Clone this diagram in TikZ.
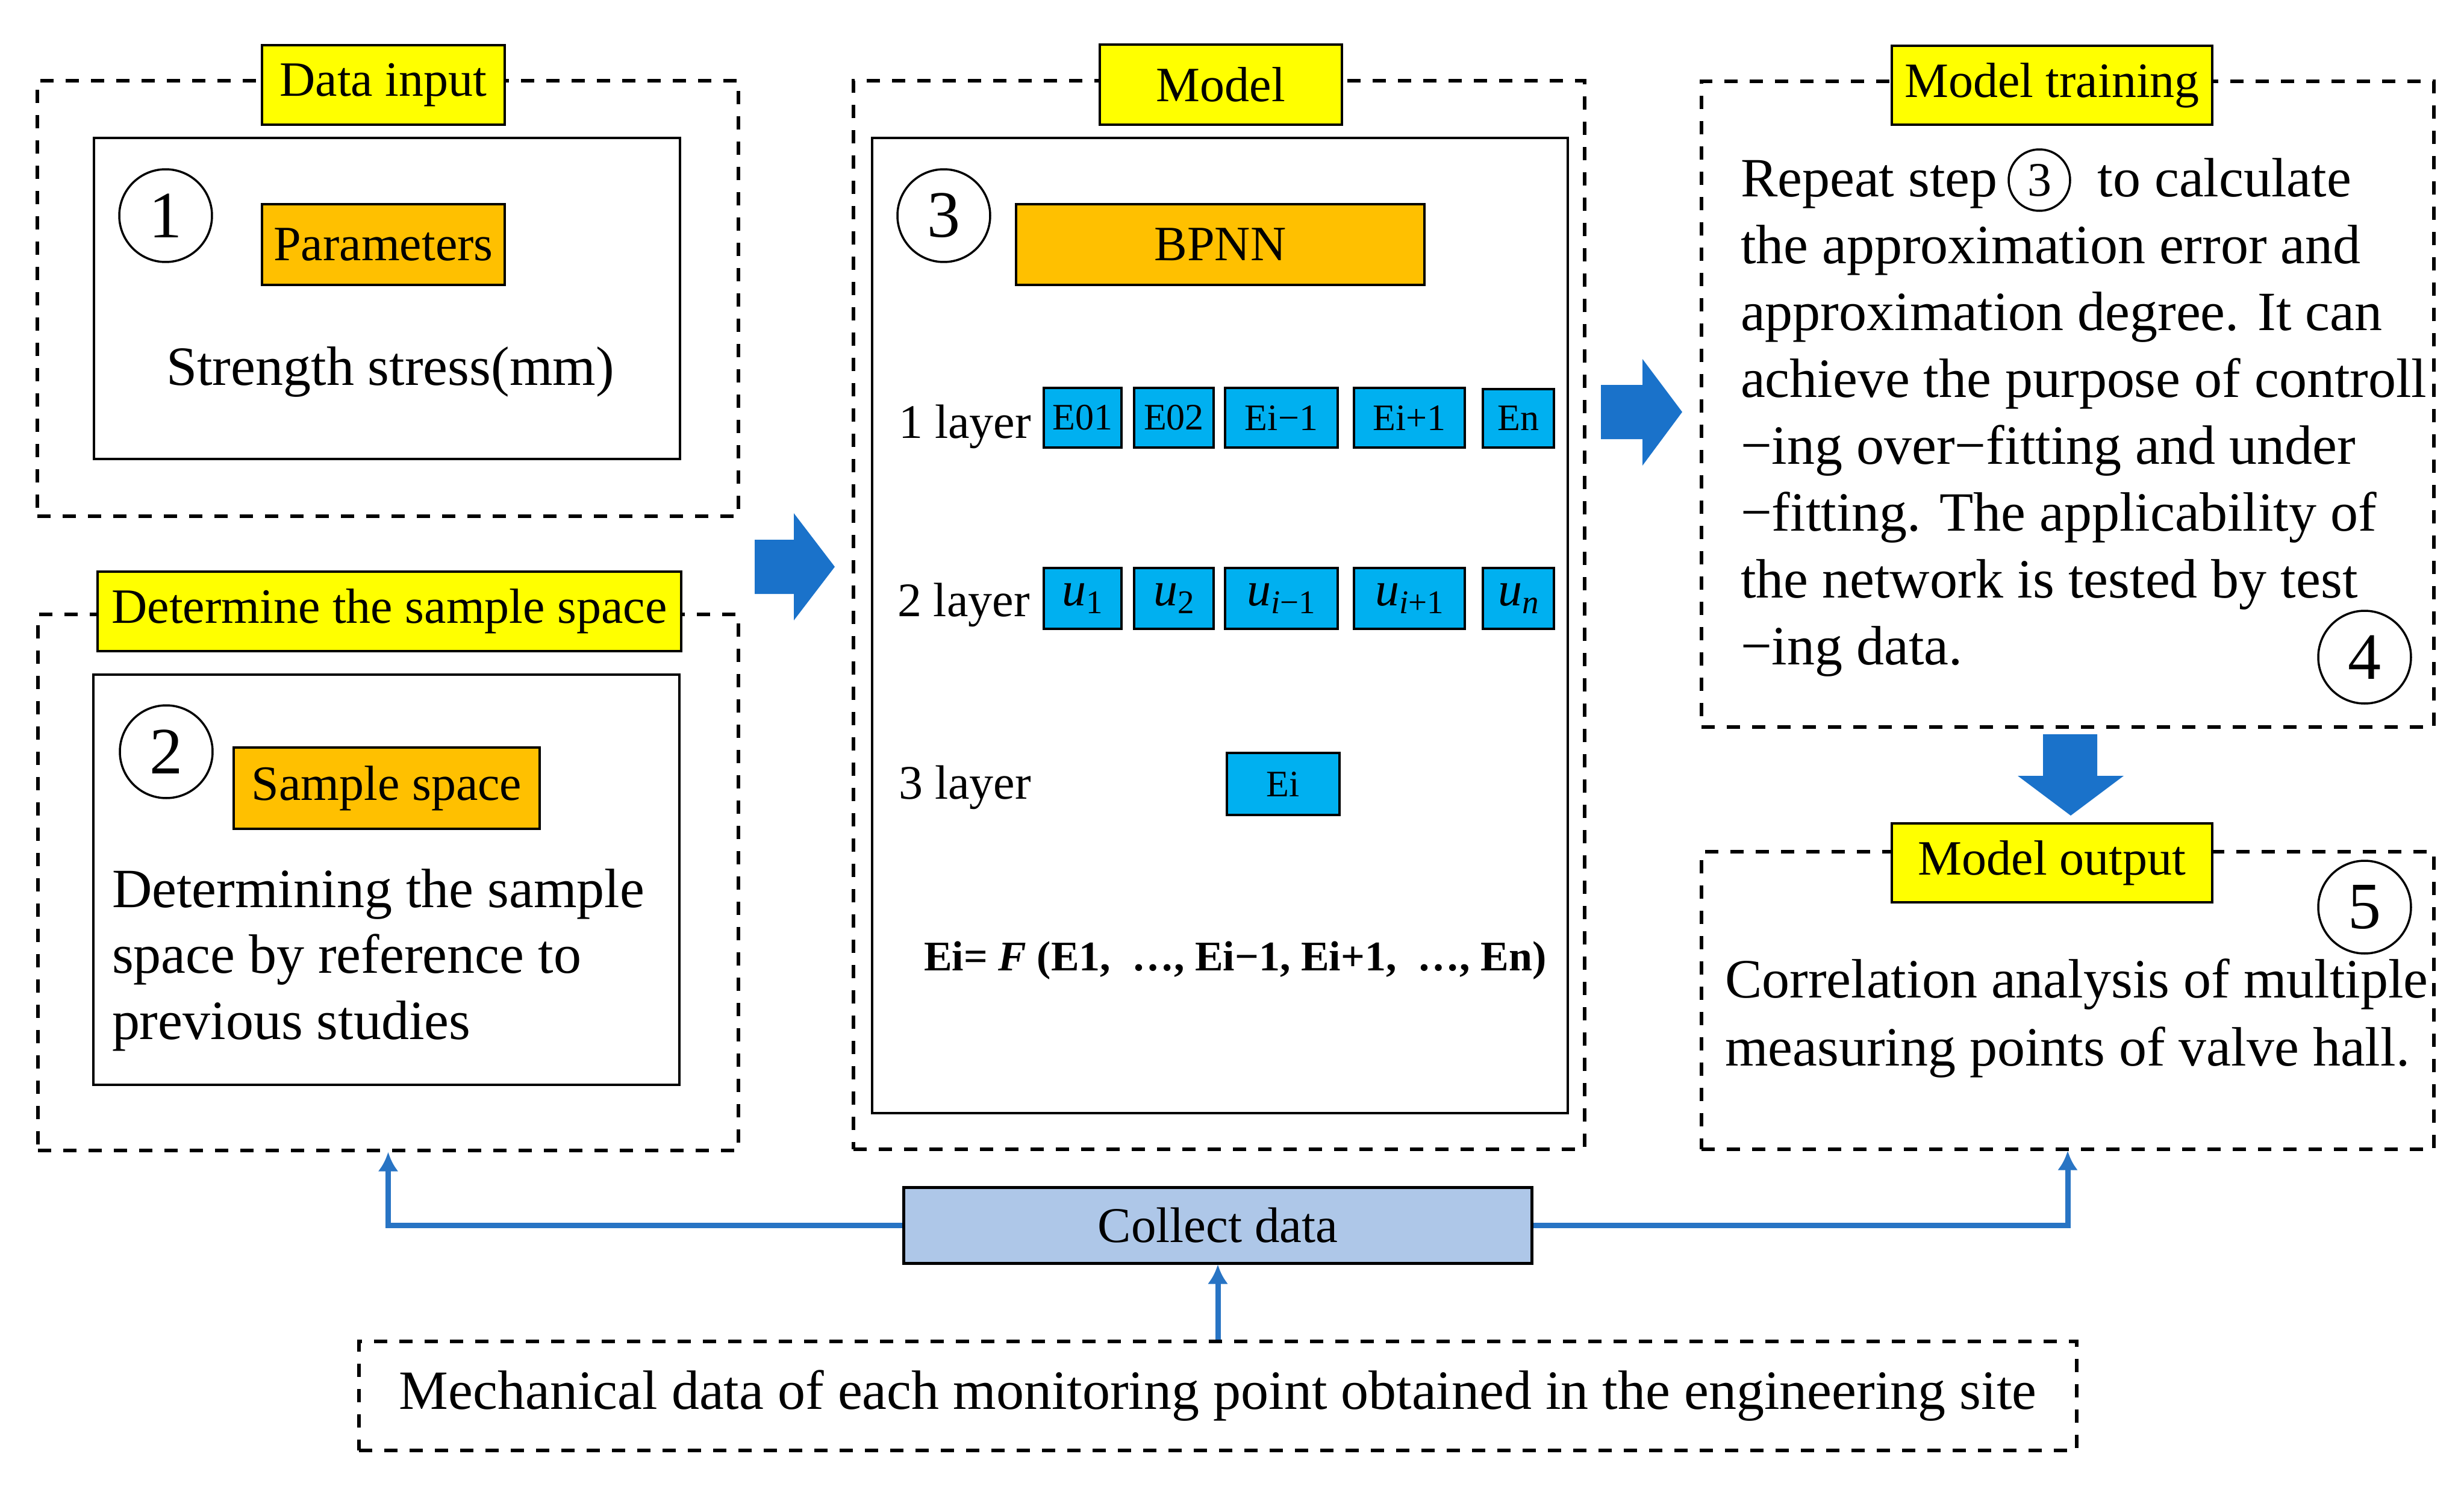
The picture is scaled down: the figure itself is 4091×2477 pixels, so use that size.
\documentclass[tikz,border=0pt]{standalone}
\usepackage{fontspec}
\setmainfont{Liberation Serif}
\usetikzlibrary{arrows.meta}
\definecolor{tagyellow}{RGB}{255,255,0}
\definecolor{taborange}{RGB}{255,192,0}
\definecolor{cellcyan}{RGB}{0,176,240}
\definecolor{bigblue}{RGB}{26,114,202}
\definecolor{linkblue}{RGB}{40,116,196}
\definecolor{collfill}{RGB}{174,199,232}
\newcommand{\uu}[1]{{\itshape u}\raisebox{-1.3pt}{\fontsize{5.5}{5.5}\selectfont #1}}

\begin{document}
\begin{tikzpicture}[x=0.1pt,y=-0.1pt]
                % define styles
\tikzset{frame/.style={draw=black,
                       line width=0.55pt,
                       dash pattern=on 2.2pt off 2pt,
                       inner sep=0,
                       },
         inner/.style={draw=black,
                       line width=0.4pt,
                       inner sep=0,
                       },
         tag/.style={draw=black,
                     fill=tagyellow,
                     line width=0.45pt,
                     inner sep=0,
                     font=\fontsize{8.2}{9}\selectfont,
                     },
         tab/.style={tag,
                     fill=taborange,
                     },
         cell/.style={draw=black,
                      fill=cellcyan,
                      line width=0.45pt,
                      inner sep=0,
                      font=\fontsize{6.2}{7}\selectfont,
                      },
         numc/.style={circle,
                      draw=black,
                      line width=0.35pt,
                      inner sep=0,
                      minimum size=15.4pt,
                      font=\fontsize{11}{11}\selectfont,
                      },
         txt/.style={inner sep=0,
                     font=\fontsize{9.2}{11}\selectfont,
                     },
         layer/.style={inner sep=0,
                       anchor=base west,
                       font=\fontsize{8}{9}\selectfont,
                       },
         link/.style={draw=linkblue,
                      line width=0.9pt,
                      -{Latex[length=3.2pt,width=3.4pt]},
                      },
}

\useasboundingbox (0,0) rectangle (4091,2477);

% dashed frames
\node[frame, minimum width=116.4pt, minimum height=72.3pt]  (data)   at (644,495.5)   {};
\node[frame, minimum width=116.3pt, minimum height=89pt]    (sample) at (644.5,1465)  {};
\node[frame, minimum width=121.4pt, minimum height=177.4pt] (model)  at (2024,1021)   {};
\node[frame, minimum width=121.6pt, minimum height=107.2pt] (train)  at (3433,671)    {};
\node[frame, minimum width=121.6pt, minimum height=49.4pt]  (output) at (3433,1661)   {};
\node[frame, minimum width=285.2pt, minimum height=18.1pt,
      font=\fontsize{9.2}{11}\selectfont] (mech) at (2022,2317.5)
      {Mechanical data of each monitoring point obtained in the engineering site};

% inner boxes
\node[inner, minimum width=97.3pt,  minimum height=53.3pt]  (datain)   at (642.5,495.5)  {};
\node[inner, minimum width=97.3pt,  minimum height=68.1pt]  (samplein) at (641.5,1460.5) {};
\node[inner, minimum width=115.5pt, minimum height=161.9pt] (modelin)  at (2025.5,1038.5) {};

% frame labels
\node[tag, minimum width=40.3pt, minimum height=13.2pt] (tdata)   at (636.5,141)   {Data input};
\node[tag, minimum width=96.9pt, minimum height=13.2pt] (tsample) at (646.5,1015)  {Determine the sample space};
\node[tag, minimum width=40.2pt, minimum height=13.3pt] (tmodel)  at (2027,140.5)  {Model};
\node[tag, minimum width=53.2pt, minimum height=13.1pt] (ttrain)  at (3407,141.5)  {Model training};
\node[tag, minimum width=53.2pt, minimum height=13.1pt] (toutput) at (3407,1432.5) {Model output};

% orange boxes
\node[tab, minimum width=40.3pt, minimum height=13.4pt] (param) at (636.5,406)  {Parameters};
\node[tab, minimum width=50.8pt, minimum height=13.5pt] (space) at (642,1308.5) {Sample space};
\node[tab, minimum width=67.8pt, minimum height=13.4pt] (bpnn)  at (2026,406)   {BPNN};

% step numbers
\node[numc] (n1) at (275,358)   {1};
\node[numc] (n2) at (276,1248)  {2};
\node[numc] (n3) at (1567,358)  {3};
\node[numc] (n4) at (3926,1091) {4};
\node[numc] (n5) at (3926,1506) {5};
\node[numc, minimum size=10.2pt, font=\fontsize{8}{8}\selectfont] (r3) at (3386,299) {3};

% texts
\node[txt, anchor=base] (strength) at (648,639) {Strength stress(mm)};
\node[txt, anchor=base west] (sampletxt) at (184,1506)
    {\parbox[t]{100pt}{\raggedright Determining the sample\\space by reference to\\previous studies}};
\node[txt, anchor=base west] (traintxt) at (2888,327)
    {\parbox[t]{125pt}{\raggedright\baselineskip=11.1pt
     Repeat step\hspace{16.6pt}to calculate\\
     the approximation error and\\
     approximation degree. It can\\
     achieve the purpose of controll\\
     −ing over−fitting and under\\
     −fitting. The applicability of\\
     the network is tested by test\\
     −ing data.}};
\node[txt, anchor=base west] (outtxt) at (2862,1656)
    {\parbox[t]{125pt}{\raggedright\baselineskip=11.3pt
     Correlation analysis of multiple\\
     measuring points of valve hall.}};

% layers
\node[layer] (l1) at (1490,728)  {1 layer};
\node[layer] (l2) at (1488,1023) {2 layer};
\node[layer] (l3) at (1490,1326) {3 layer};

\node[cell, minimum width=12.9pt, minimum height=9.9pt] (e01) at (1797.5,693.5) {E01};
\node[cell, minimum width=13.2pt, minimum height=9.9pt] (e02) at (1949,693.5)   {E02};
\node[cell, minimum width=18.7pt, minimum height=9.9pt] (em)  at (2127.5,693.5) {Ei−1};
\node[cell, minimum width=18.4pt, minimum height=9.9pt] (ep)  at (2340,693.5)   {Ei+1};
\node[cell, minimum width=11.8pt, minimum height=9.7pt] (en)  at (2521,694.5)   {En};

\node[cell, minimum width=12.9pt, minimum height=10.1pt, font=\fontsize{8}{9}\selectfont] (u1) at (1797.5,993.5) {\uu{1}};
\node[cell, minimum width=13.2pt, minimum height=10.1pt, font=\fontsize{8}{9}\selectfont] (u2) at (1949,993.5)   {\uu{2}};
\node[cell, minimum width=18.7pt, minimum height=10.1pt, font=\fontsize{8}{9}\selectfont] (um) at (2127.5,993.5) {\uu{{\itshape i}−1}};
\node[cell, minimum width=18.4pt, minimum height=10.1pt, font=\fontsize{8}{9}\selectfont] (up) at (2340,993.5)   {\uu{{\itshape i}+1}};
\node[cell, minimum width=11.8pt, minimum height=10.1pt, font=\fontsize{8}{9}\selectfont] (un) at (2521,993.5)   {\uu{{\itshape n}}};

\node[cell, minimum width=18.7pt, minimum height=10.3pt] (ei) at (2130.5,1301.5) {Ei};

\node[inner sep=0, anchor=base west, font=\bfseries\fontsize{7}{8}\selectfont] (formula) at (1532,1611)
    {Ei= \textit{F} (E1,\ \ …, Ei−1, Ei+1,\ \ …, En)};

% block arrows
\fill[bigblue] (1253,896) -- (1318,896) -- (1318,852) -- (1386,941)
               -- (1318,1030) -- (1318,986) -- (1253,986) -- cycle;
\fill[bigblue] (2658,639) -- (2727,639) -- (2727,596) -- (2793,684)
               -- (2727,773) -- (2727,729) -- (2658,729) -- cycle;
\fill[bigblue] (3392,1219) -- (3482,1219) -- (3482,1288) -- (3526,1288)
               -- (3438,1354) -- (3350,1288) -- (3392,1288) -- cycle;

% collect data
\node[draw=black, fill=collfill, line width=0.5pt, inner sep=0,
      minimum width=104.4pt, minimum height=12.6pt,
      font=\fontsize{8.3}{9}\selectfont] (coll) at (2022,2034) {Collect data};

\draw[link] (coll.west) -| (sample.south);
\draw[link] (coll.east) -| (output.south);
\draw[link] (mech.north) -- (coll.south);

\end{tikzpicture}
\end{document}
